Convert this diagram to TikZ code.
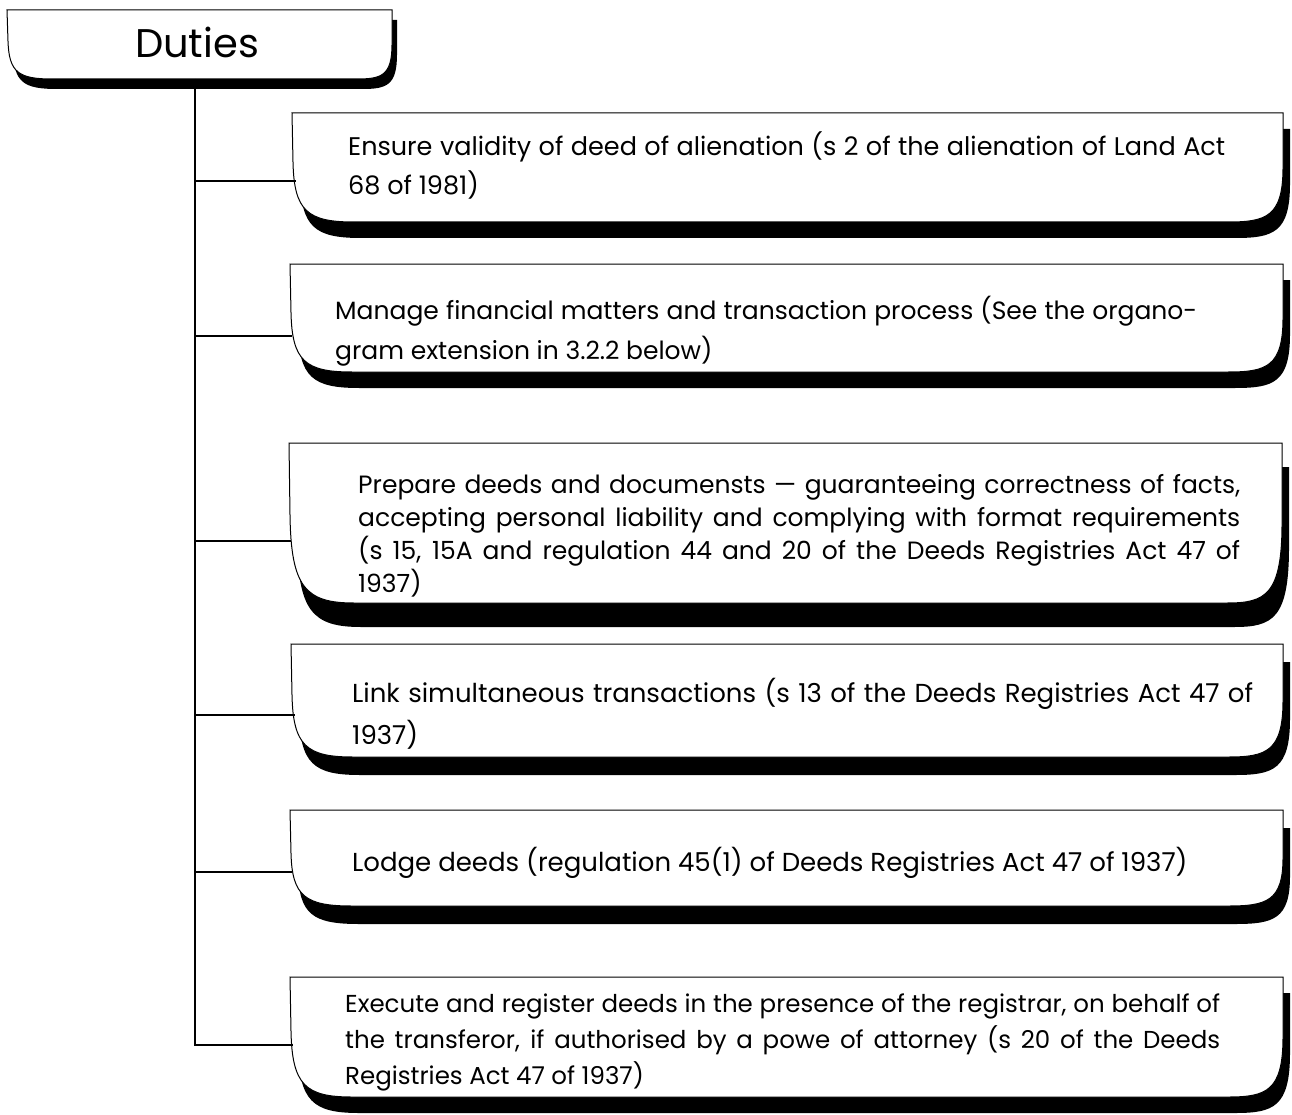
\documentclass[tikz,border=0pt]{standalone}
\usepackage{fontspec}
\setmainfont{Poppins}
\tikzset{
  conn/.style={line width=1.8pt},
  boxline/.style={fill=white, draw=black, line width=1pt},
  shadowfill/.style={fill=black},
  boxtext/.style={anchor=base west, inner sep=0pt},
}
\newcommand\jline[2]{\makebox[#1pt][s]{#2}}
% #1 L, #2 T, #3 R, #4 B, #5 shadow dx, #6 shadow dy, #7 left curve width, #8 right curve width
\newcommand\dutyshape[8]{%
  \fill[shadowfill, shift={(#5,#6)}] (#1,#2) -- (#3,#2) -- (#3,{#2+0.5*(#4-#2)})
    .. controls (#3,{#4-0.05*(#4-#2)}) and ({#3-0.3*#8},#4) .. ({#3-#8},#4)
    -- ({#1+#7},#4)
    .. controls ({#1+0.25*#7},#4) and ({#1+2},{#4-0.1*(#4-#2)}) .. ({#1+1},{#2+0.45*(#4-#2)})
    -- cycle;
  \filldraw[boxline] (#1,#2) -- (#3,#2) -- (#3,{#2+0.5*(#4-#2)})
    .. controls (#3,{#4-0.05*(#4-#2)}) and ({#3-0.3*#8},#4) .. ({#3-#8},#4)
    -- ({#1+#7},#4)
    .. controls ({#1+0.25*#7},#4) and ({#1+2},{#4-0.1*(#4-#2)}) .. ({#1+1},{#2+0.45*(#4-#2)})
    -- cycle;
}
\begin{document}
\begin{tikzpicture}[x=1pt, y=-1pt]
\useasboundingbox (0,0) rectangle (1292,1115);

% header
\dutyshape{7}{10}{392}{79}{5}{10}{45}{35}
\node[boxtext, anchor=base, font=\fontsize{40}{44}\selectfont] (duties) at (197,58) {Duties};
\coordinate (ttop) at (195,79);

% boxes
\dutyshape{292}{113}{1283}{222}{7}{16}{62}{55}
\dutyshape{290}{264}{1283}{372}{7}{16}{62}{55}
\dutyshape{289}{443}{1282}{603}{7}{24}{65}{55}
\dutyshape{291}{644}{1283}{757}{7}{18}{62}{55}
\dutyshape{290}{810}{1283}{906}{7}{18}{62}{55}
\dutyshape{290}{977}{1283}{1097}{7}{16}{62}{55}

\coordinate (c1) at (296,181);
\coordinate (c2) at (292,336);
\coordinate (c3) at (291,541);
\coordinate (c4) at (295,715);
\coordinate (c5) at (292,872);
\coordinate (c6) at (293,1045);

% texts
\node[boxtext, font=\fontsize{25.5}{39}\selectfont] (t1) at (348,156) {\parbox[t]{1000pt}{\raggedright
\jline{877}{Ensure validity of deed of alienation (s 2 of the alienation of Land Act}\\
68 of 1981)}};
\node[boxtext, font=\fontsize{25}{40}\selectfont] (t2) at (335,319) {\parbox[t]{1000pt}{\raggedright
\jline{862}{Manage financial matters and transaction process (See the organo-}\\
gram extension in 3.2.2 below)}};
\node[boxtext, font=\fontsize{25}{33}\selectfont] (t3) at (358,493) {\parbox[t]{1000pt}{\raggedright
\jline{882}{Prepare deeds and documensts — guaranteeing correctness of facts,}\\
\jline{882}{accepting personal liability and complying with format requirements}\\
\jline{882}{(s 15, 15A and regulation 44 and 20 of the Deeds Registries Act 47 of}\\
1937)}};
\node[boxtext, font=\fontsize{26}{42}\selectfont] (t4) at (352,702) {\parbox[t]{1000pt}{\raggedright
\jline{901}{Link simultaneous transactions (s 13 of the Deeds Registries Act 47 of}\\
1937)}};
\node[boxtext, font=\fontsize{26}{36}\selectfont] (t5) at (352,871) {\parbox[t]{1000pt}{\raggedright
Lodge deeds (regulation 45(1) of Deeds Registries Act 47 of 1937)}};
\node[boxtext, font=\fontsize{24.5}{36}\selectfont] (t6) at (345,1012) {\parbox[t]{1000pt}{\raggedright
\jline{875}{Execute and register deeds in the presence of the registrar, on behalf of}\\
\jline{875}{the transferor, if authorised by a powe of attorney (s 20 of the Deeds}\\
Registries Act 47 of 1937)}};

% connectors
\draw[conn] (ttop) |- (c6);
\draw[conn] (c1 -| ttop) -- (c1);
\draw[conn] (c2 -| ttop) -- (c2);
\draw[conn] (c3 -| ttop) -- (c3);
\draw[conn] (c4 -| ttop) -- (c4);
\draw[conn] (c5 -| ttop) -- (c5);
\end{tikzpicture}
\end{document}
